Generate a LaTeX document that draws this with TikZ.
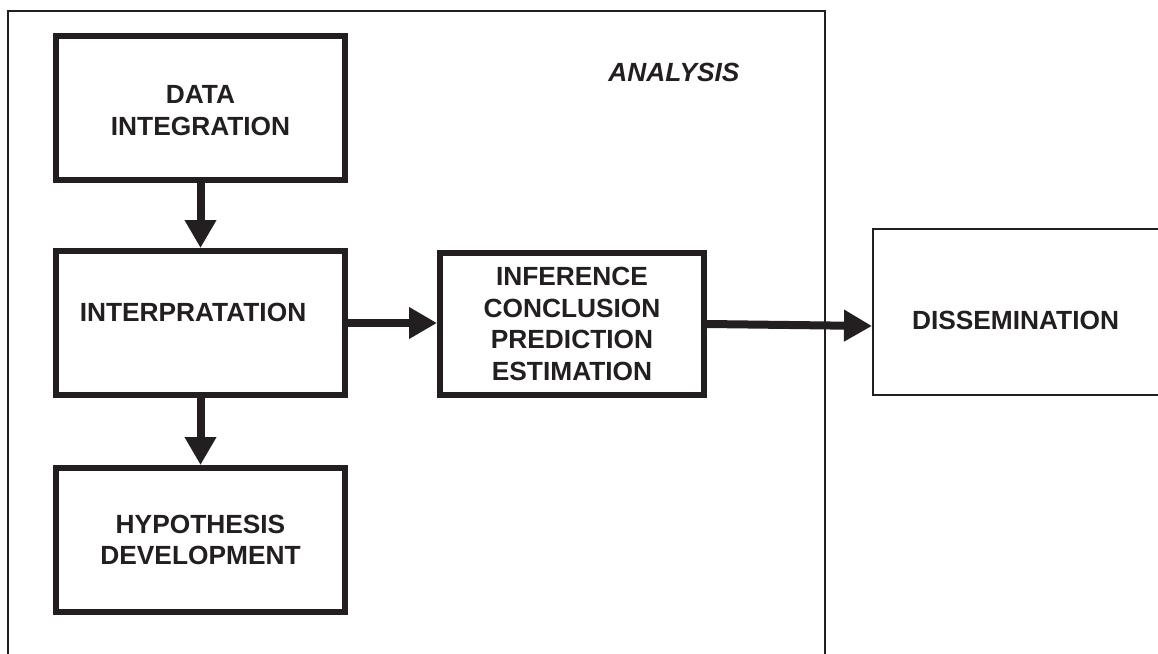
\documentclass[tikz,border=0pt]{standalone}
\usepackage{fontspec}
\setmainfont{Liberation Sans}
\usetikzlibrary{arrows.meta}
\definecolor{ink}{HTML}{231F20}
\begin{document}
\begin{tikzpicture}[x=1pt,y=-1pt,
  every node/.style={font=\fontsize{26.3}{31.5}\selectfont\bfseries, text=ink},
  thickbox/.style={draw=ink, line width=6pt, minimum width=289pt, minimum height=144pt, align=center, inner sep=0pt},
  thinbox/.style={draw=ink, line width=2pt, align=center, inner sep=0pt},
  flow/.style={draw=ink, line width=8pt, -{Triangle[length=28pt,width=30pt]}}
]
\useasboundingbox (0,0) rectangle (1158,653);
\clip (0,0) rectangle (1158,653);
\fill[white] (0,0) rectangle (1158,653);
% analysis frame (open at the bottom)
\draw[ink, line width=2pt] (8,670) -- (8,11) -- (825,11) -- (825,670);
\node[font=\fontsize{26.3}{31.5}\selectfont\bfseries\itshape] (title) at (674,72) {ANALYSIS};

\node[thickbox, label={[yshift=-3pt,align=center]center:DATA\\INTEGRATION}] (data) at (200.5,107.5) {};
\node[thickbox, label={[xshift=-7.5pt,yshift=11pt]center:INTERPRATATION}] (interp) at (200.5,323) {};
\node[thickbox] (hyp) at (200.5,540) {HYPOTHESIS\\DEVELOPMENT};
\node[thickbox, minimum width=264pt, minimum height=142pt] (inf) at (572,324) {INFERENCE\\CONCLUSION\\PREDICTION\\ESTIMATION};
\node[thinbox, minimum width=287pt, minimum height=166pt, label={[xshift=-1pt,yshift=-8pt]center:DISSEMINATION}] (diss) at (1016.5,312) {};

\draw[flow] (data) -- (interp);
\draw[flow] (interp) -- (hyp);
\draw[flow] (interp.east) -- (inf.west |- interp.east);
\draw[flow] (inf.east) -- ([yshift=-2pt]diss.west |- inf.east);
\end{tikzpicture}
\end{document}
